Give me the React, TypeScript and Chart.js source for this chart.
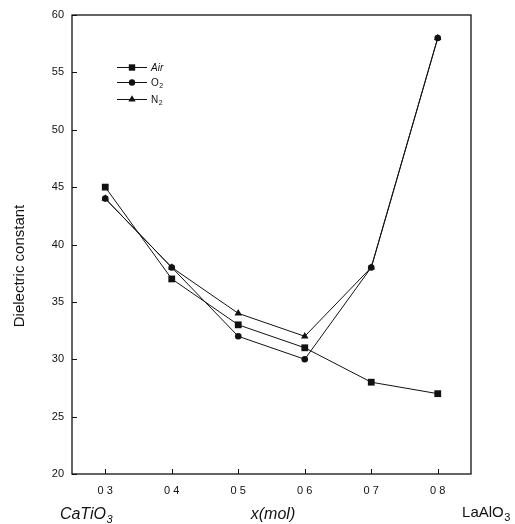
import React, { useEffect, useRef } from 'react';
import { Chart, registerables } from 'chart.js';

Chart.register(...registerables);

// ---- data ----
const xValues = [0.3, 0.4, 0.5, 0.6, 0.7, 0.8];
const airValues = [45, 37, 33, 31, 28, 27];
const o2Values = [44, 38, 32, 30, 38, 58];
const n2Values = [44, 38, 34, 32, 38, 58];
const xTickValues = [0.3, 0.4, 0.5, 0.6, 0.7, 0.8];
const yTickValues = [20, 25, 30, 35, 40, 45, 50, 55, 60];
const seriesNames = ['Air', 'O', 'N'];
const seriesSubs = ['', '2', '2'];

const FONT = '"Liberation Sans", Arial, sans-serif';
const INK = '#111';

function toPoints(vals: number[]) {
  return xValues.map((x, i) => ({ x, y: vals[i] }));
}

function drawMarker(ctx: CanvasRenderingContext2D, style: string, x: number, y: number, r: number) {
  ctx.beginPath();
  if (style === 'rect') {
    const s = r * Math.SQRT1_2;
    ctx.rect(x - s, y - s, 2 * s, 2 * s);
  } else if (style === 'circle') {
    ctx.arc(x, y, r, 0, Math.PI * 2);
  } else {
    for (let k = 0; k < 3; k++) {
      const a = -Math.PI / 2 + (k * 2 * Math.PI) / 3;
      const px = x + Math.cos(a) * r;
      const py = y + Math.sin(a) * r;
      if (k === 0) ctx.moveTo(px, py);
      else ctx.lineTo(px, py);
    }
    ctx.closePath();
  }
  ctx.fill();
}

function drawWithSub(
  ctx: CanvasRenderingContext2D,
  main: string,
  sub: string,
  x: number,
  y: number,
  size: number,
  italic: boolean,
  align: 'left' | 'center'
) {
  const style = italic ? 'italic ' : '';
  ctx.font = `${style}${size}px ${FONT}`;
  const w1 = ctx.measureText(main).width;
  ctx.font = `${style}${Math.round(size * 0.7)}px ${FONT}`;
  const w2 = sub ? ctx.measureText(sub).width : 0;
  const total = w1 + w2;
  const x0 = align === 'center' ? x - total / 2 : x;
  ctx.textAlign = 'left';
  ctx.textBaseline = 'alphabetic';
  ctx.font = `${style}${size}px ${FONT}`;
  ctx.fillText(main, x0, y);
  if (sub) {
    ctx.font = `${style}${Math.round(size * 0.7)}px ${FONT}`;
    ctx.fillText(sub, x0 + w1 + 0.5, y + size * 0.25);
  }
}

const framePlugin = {
  id: 'frameAndTexts',
  afterDraw(chart: any) {
    const ctx: CanvasRenderingContext2D = chart.ctx;
    const { left, right, top, bottom } = chart.chartArea;
    const xs = chart.scales.x;
    const ys = chart.scales.y;
    ctx.save();
    ctx.strokeStyle = INK;
    ctx.lineWidth = 1.3;
    ctx.strokeRect(left, top, right - left, bottom - top);
    ctx.lineWidth = 1;
    // inward ticks
    ctx.beginPath();
    yTickValues.forEach((v) => {
      const py = Math.round(ys.getPixelForValue(v)) + 0.5;
      ctx.moveTo(left, py);
      ctx.lineTo(left + 5, py);
    });
    xTickValues.forEach((v) => {
      const px = Math.round(xs.getPixelForValue(v)) + 0.5;
      ctx.moveTo(px, bottom);
      ctx.lineTo(px, bottom - 5);
    });
    ctx.stroke();

    ctx.fillStyle = INK;
    // y title
    ctx.save();
    ctx.translate(20, 266);
    ctx.rotate(-Math.PI / 2);
    ctx.font = `15px ${FONT}`;
    ctx.textAlign = 'center';
    ctx.textBaseline = 'middle';
    ctx.fillText('Dielectric constant', 0, 0);
    ctx.restore();

    // bottom labels
    drawWithSub(ctx, 'CaTiO', '3', 86, 519, 16, true, 'center');
    drawWithSub(ctx, 'x(mol)', '', 273, 519, 16, true, 'center');
    drawWithSub(ctx, 'LaAlO', '3', 486, 517, 15, false, 'center');

    // legend
    const styles = ['rect', 'circle', 'triangle'];
    const radii = [4.5, 3.2, 4.2];
    const rowsY = [67, 82, 99];
    styles.forEach((st, i) => {
      const y = rowsY[i];
      ctx.strokeStyle = INK;
      ctx.lineWidth = 1;
      ctx.beginPath();
      ctx.moveTo(117, y + 0.5);
      ctx.lineTo(147, y + 0.5);
      ctx.stroke();
      drawMarker(ctx, st, 132, y + 0.5, radii[i]);
      drawWithSub(ctx, seriesNames[i], seriesSubs[i], 151, y + 3.5, 10, i === 0, 'left');
    });
    ctx.restore();
  },
};

export default function App() {
  const canvasRef = useRef<HTMLCanvasElement | null>(null);

  useEffect(() => {
    const canvas = canvasRef.current;
    if (!canvas) return;
    const common = {
      borderColor: INK,
      backgroundColor: INK,
      pointBackgroundColor: INK,
      pointBorderColor: INK,
      borderWidth: 1,
      pointBorderWidth: 0,
      tension: 0,
      fill: false,
      showLine: true,
    };
    const chart = new Chart(canvas, {
      type: 'scatter',
      data: {
        datasets: [
          { ...common, label: 'Air', data: toPoints(airValues), pointStyle: 'rect', pointRadius: 4.8 },
          { ...common, label: 'O2', data: toPoints(o2Values), pointStyle: 'circle', pointRadius: 3.3 },
          { ...common, label: 'N2', data: toPoints(n2Values), pointStyle: 'triangle', pointRadius: 4.3 },
        ],
      },
      options: {
        responsive: false,
        maintainAspectRatio: false,
        animation: false,
        layout: { padding: { top: 15, right: 44, left: 0, bottom: 0 } },
        plugins: { legend: { display: false }, tooltip: { enabled: false } },
        scales: {
          x: {
            type: 'linear',
            min: 0.25,
            max: 0.85,
            grid: { display: false, drawTicks: false },
            border: { display: false },
            afterBuildTicks: (s: any) => {
              s.ticks = xTickValues.map((v) => ({ value: v }));
            },
            afterFit: (s: any) => {
              s.height = 50;
            },
            ticks: {
              padding: 10,
              color: INK,
              font: { family: FONT, size: 11 },
              callback: (v: any) => Number(v).toFixed(1).replace('.', ' '),
            },
          },
          y: {
            type: 'linear',
            min: 20,
            max: 60,
            grid: { display: false, drawTicks: false },
            border: { display: false },
            afterBuildTicks: (s: any) => {
              s.ticks = yTickValues.map((v) => ({ value: v }));
            },
            afterFit: (s: any) => {
              s.width = 72;
            },
            ticks: {
              padding: 8,
              color: INK,
              font: { family: FONT, size: 11 },
              callback: (v: any) => String(v),
            },
          },
        },
      },
      plugins: [framePlugin],
    });
    return () => chart.destroy();
  }, []);

  return (
    <div style={{ position: 'fixed', left: 0, top: 0, width: 515, height: 524, background: '#fff' }}>
      <canvas ref={canvasRef} width={515} height={524} style={{ width: 515, height: 524, display: 'block' }} />
    </div>
  );
}
